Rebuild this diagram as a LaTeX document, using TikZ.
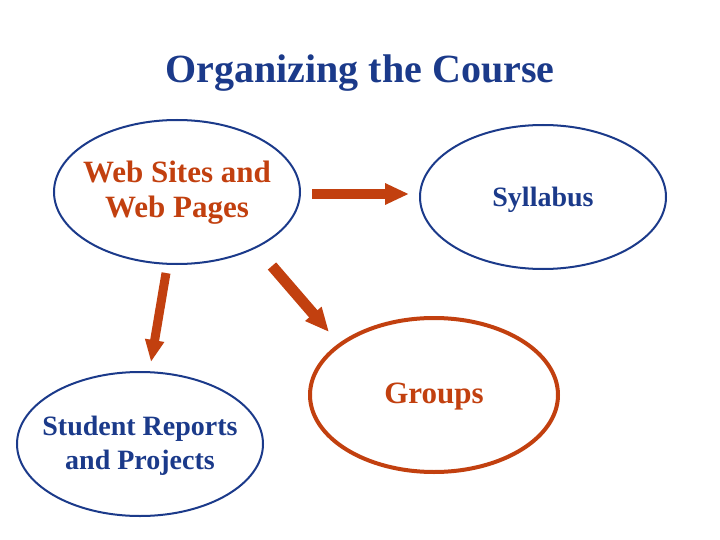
\documentclass[tikz,border=0pt]{standalone}
\usepackage{fontspec}
\setmainfont{Liberation Serif}
\usetikzlibrary{shapes.geometric,arrows.meta}
\definecolor{navy}{HTML}{1B3A8A}
\definecolor{rust}{HTML}{C2400F}
\tikzset{
  topic/.style={ellipse, draw=navy, line width=2pt, minimum width=246pt,
    minimum height=144pt, inner sep=0pt},
  lbl/.style={align=center, font=\bfseries\fontsize{28}{34}\selectfont, text=navy},
  hot/.style={text=rust, font=\bfseries\fontsize{31}{35}\selectfont},
  bigarrow/.style={draw=rust, line width=#1, -{Triangle[width=20pt,length=24pt]}}
}
\begin{document}
\begin{tikzpicture}[x=1pt, y=-1pt]
  \fill[white] (0,0) rectangle (720,540);
  \useasboundingbox (0,0) rectangle (720,540);
  \node[font=\bfseries\fontsize{40}{44}\selectfont, text=navy] (title) at (360,73) {Organizing the Course};
  % ellipses
  \node[topic] (web) at (177,192) {};
  \node[topic] (syl) at (543,197) {};
  \node[topic, draw=rust, line width=4pt, minimum width=248pt, minimum height=154pt] (grp) at (434,395) {};
  \node[topic] (rep) at (140,444) {};
  % texts
  \node[lbl, hot] (webtxt) at ([yshift=-1pt]web.center) {Web Sites and\\Web Pages};
  \node[lbl] (syltxt) at ([yshift=-3pt]syl.center) {Syllabus};
  \node[lbl, hot] (grptxt) at ([yshift=-2pt]grp.center) {Groups};
  \node[lbl] (reptxt) at ([yshift=-2pt]rep.center) {Student Reports\\and Projects};
  % arrow ends
  \coordinate (a1) at (312,194);
  \coordinate (b1) at (409,194);
  \coordinate (a2) at (272,266);
  \coordinate (b2) at (329,332);
  \coordinate (a3) at (166,273);
  \coordinate (b3) at (151,362);
  \draw[bigarrow=10pt] (a1) -- (b1);
  \draw[bigarrow=11pt] (a2) -- (b2);
  \draw[bigarrow=9pt, -{Triangle[width=18pt,length=22pt]}] (a3) -- (b3);
\end{tikzpicture}
\end{document}
